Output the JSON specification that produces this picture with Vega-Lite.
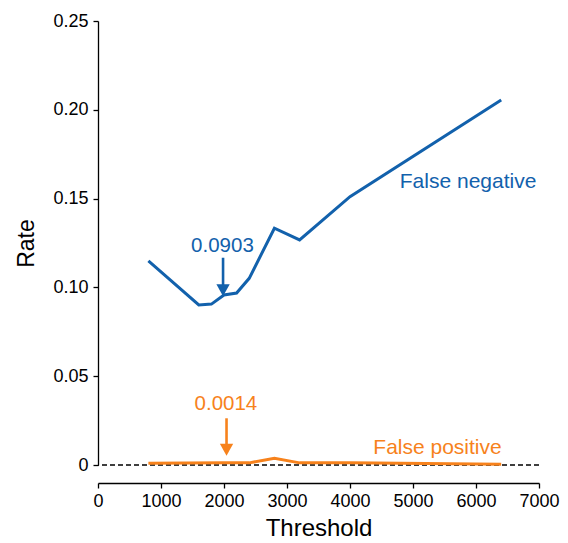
{
  "$schema": "https://vega.github.io/schema/vega-lite/v6.json",
  "width": 441,
  "height": 444,
  "autosize": {"type": "none"},
  "padding": {"left": 98, "top": 21, "right": 29, "bottom": 78},
  "background": "white",
  "config": {
    "view": {"stroke": null},
    "font": "Liberation Sans",
    "axis": {
      "grid": false,
      "domainColor": "black",
      "tickColor": "black",
      "labelColor": "black",
      "titleColor": "black",
      "labelFont": "Liberation Sans",
      "titleFont": "Liberation Sans",
      "titleFontWeight": "normal",
      "labelFontSize": 18,
      "domainWidth": 1.3,
      "tickWidth": 1.3,
      "tickSize": 5
    }
  },
  "datasets": {
    "lines": [
      {"series": "False negative", "threshold": 800, "rate": 0.1149},
      {"series": "False negative", "threshold": 1600, "rate": 0.0901},
      {"series": "False negative", "threshold": 1800, "rate": 0.0906},
      {"series": "False negative", "threshold": 2000, "rate": 0.0957},
      {"series": "False negative", "threshold": 2200, "rate": 0.0968},
      {"series": "False negative", "threshold": 2400, "rate": 0.1051},
      {"series": "False negative", "threshold": 2800, "rate": 0.1333},
      {"series": "False negative", "threshold": 3200, "rate": 0.1267},
      {"series": "False negative", "threshold": 4000, "rate": 0.1511},
      {"series": "False negative", "threshold": 6400, "rate": 0.2055},
      {"series": "False positive", "threshold": 800, "rate": 0.0010},
      {"series": "False positive", "threshold": 2000, "rate": 0.0013},
      {"series": "False positive", "threshold": 2400, "rate": 0.0012},
      {"series": "False positive", "threshold": 2800, "rate": 0.0038},
      {"series": "False positive", "threshold": 3200, "rate": 0.0012},
      {"series": "False positive", "threshold": 4000, "rate": 0.0012},
      {"series": "False positive", "threshold": 6400, "rate": 0.0004}
    ],
    "labels": [
      {"series": "False negative", "threshold": 4790, "rate": 0.1558, "text": "False negative"},
      {"series": "False positive", "threshold": 4370, "rate": 0.0062, "text": "False positive"}
    ],
    "values": [
      {"series": "False negative", "threshold": 1975, "rate": 0.1201, "text": "0.0903"},
      {"series": "False positive", "threshold": 2030, "rate": 0.0310, "text": "0.0014"}
    ],
    "arrows": [
      {"series": "False negative", "threshold": 1985, "top": 0.1167, "bottom": 0.1013, "head": 0.0984},
      {"series": "False positive", "threshold": 2040, "top": 0.0263, "bottom": 0.0118, "head": 0.0086}
    ],
    "zero": [{"rate": 0}]
  },
  "layer": [
    {
      "data": {"name": "zero"},
      "mark": {"type": "rule", "strokeDash": [5, 3], "color": "black", "strokeWidth": 1.5},
      "encoding": {"y": {"field": "rate", "type": "quantitative"}}
    },
    {
      "data": {"name": "lines"},
      "mark": {"type": "line", "strokeWidth": 3, "strokeJoin": "miter"},
      "encoding": {
        "x": {
          "field": "threshold",
          "type": "quantitative",
          "scale": {"domain": [0, 7000], "nice": false},
          "axis": {
            "title": "Threshold",
            "titleFontSize": 24,
            "titlePadding": 6,
            "values": [0, 1000, 2000, 3000, 4000, 5000, 6000, 7000],
            "format": "d",
            "offset": 18,
            "labelPadding": 4,
            "labelFlush": false
          }
        },
        "y": {
          "field": "rate",
          "type": "quantitative",
          "scale": {"domain": [0, 0.25], "nice": false},
          "axis": {
            "title": "Rate",
            "titleFontSize": 23,
            "titlePadding": 14,
            "values": [0, 0.05, 0.1, 0.15, 0.2, 0.25],
            "labelExpr": "datum.value == 0 ? '0' : format(datum.value, '.2f')",
            "labelPadding": 5
          }
        },
        "color": {
          "field": "series",
          "type": "nominal",
          "scale": {"domain": ["False negative", "False positive"], "range": ["#1261ac", "#f7821c"]},
          "legend": null
        }
      }
    },
    {
      "data": {"name": "arrows"},
      "mark": {"type": "rule", "strokeWidth": 2.6},
      "encoding": {
        "x": {"field": "threshold", "type": "quantitative"},
        "y": {"field": "top", "type": "quantitative"},
        "y2": {"field": "bottom"},
        "color": {"field": "series", "type": "nominal", "legend": null}
      }
    },
    {
      "data": {"name": "arrows"},
      "mark": {"type": "point", "filled": true, "opacity": 1, "shape": "M-1,-0.9L1,-0.9L0,0.9Z", "size": 177, "strokeWidth": 0},
      "encoding": {
        "x": {"field": "threshold", "type": "quantitative"},
        "y": {"field": "head", "type": "quantitative"},
        "color": {"field": "series", "type": "nominal", "legend": null}
      }
    },
    {
      "data": {"name": "labels"},
      "mark": {"type": "text", "align": "left", "baseline": "alphabetic", "fontSize": 21, "font": "Liberation Sans"},
      "encoding": {
        "x": {"field": "threshold", "type": "quantitative"},
        "y": {"field": "rate", "type": "quantitative"},
        "text": {"field": "text"},
        "color": {"field": "series", "type": "nominal", "legend": null}
      }
    },
    {
      "data": {"name": "values"},
      "mark": {"type": "text", "align": "center", "baseline": "alphabetic", "fontSize": 20.5, "font": "Liberation Sans"},
      "encoding": {
        "x": {"field": "threshold", "type": "quantitative"},
        "y": {"field": "rate", "type": "quantitative"},
        "text": {"field": "text"},
        "color": {"field": "series", "type": "nominal", "legend": null}
      }
    }
  ]
}
